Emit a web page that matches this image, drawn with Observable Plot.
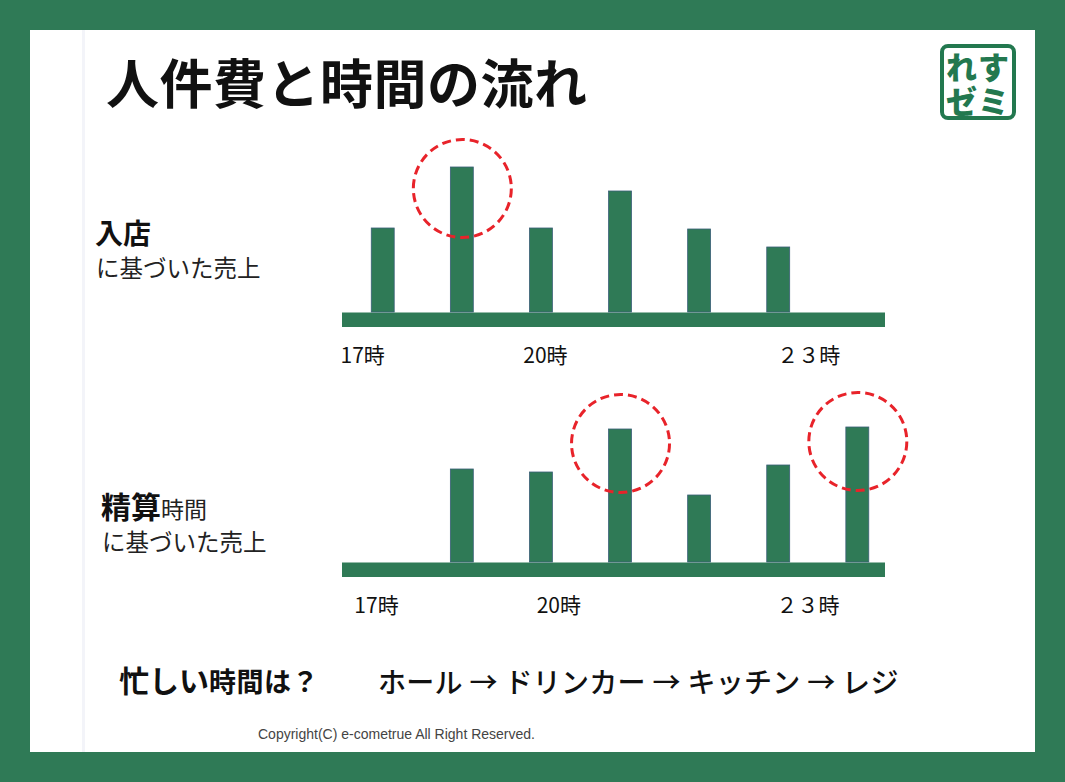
<!DOCTYPE html>
<html lang="ja">
<head>
<meta charset="utf-8">
<script src="https://cdn.jsdelivr.net/npm/d3@7"></script>
<script src="https://cdn.jsdelivr.net/npm/@observablehq/plot@0.6"></script>
<style>
  html, body { margin: 0; padding: 0; }
  body { width: 1065px; height: 782px; background: #2f7a56; position: relative; overflow: hidden;
         font-family: "Noto Sans CJK JP", "Noto Sans", sans-serif; color: #111; }
  .abs { position: absolute; white-space: nowrap; line-height: 1; }
  #panel { position: absolute; left: 30px; top: 30px; width: 1005px; height: 722px; background: #fff; }
  #vline { position: absolute; left: 82px; top: 30px; width: 3px; height: 722px; background: #f3f4f9; }
  #logo { position: absolute; left: 940px; top: 44px; width: 68px; height: 68px; border: 4px solid #23784f;
          border-radius: 8px; color: #23784f; font-weight: 900; }
  #logo div { position: absolute; left: 0; top: 1px; width: 68px; text-align: center; font-size: 31px;
              line-height: 34px; letter-spacing: 1px; }
  .chart { position: absolute; left: 330px; }
</style>
</head>
<body>
<div id="panel"></div>
<div id="vline"></div>
<div class="abs" style="left:106px; top:55px; font-size:53px; font-weight:700; letter-spacing:0.5px;">人件費と時間の流れ</div>
<div id="logo"><div>れす<br>ゼミ</div></div>

<div class="abs" style="left:95px; top:218px; font-size:28px; font-weight:700;">入店</div>
<div class="abs" style="left:96px; top:256px; font-size:23.5px; color:#222;">に基づいた売上</div>

<div class="abs" style="left:101px; top:490px; font-size:30px; font-weight:700;">精算<span style="font-size:23px; font-weight:400; color:#222;">時間</span></div>
<div class="abs" style="left:102px; top:530px; font-size:23.5px; color:#222;">に基づいた売上</div>

<div class="abs" style="left:119px; top:664px; font-size:30px; font-weight:700;">忙しい<span style="font-size:27px; letter-spacing:0.5px;">時間は？</span></div>
<div class="abs" style="left:378px; top:667px; font-size:28px; font-weight:500; letter-spacing:0.3px;">ホール → ドリンカー → キッチン → レジ</div>
<div class="abs" style="left:258px; top:727px; font-size:14px; color:#444; font-family:'Liberation Sans', Arial, sans-serif;">Copyright(C) e-cometrue All Right Reserved.</div>

<div id="chart1" class="chart" style="top:132px;"></div>
<div id="chart2" class="chart" style="top:382px;"></div>

<script>
// ---- data ----
const slots = [0, 1, 2, 3, 4, 5, 6];
const entrySales    = [84, 145, 84, 121, 83, 65, null];     // 入店に基づいた売上
const checkoutSales = [null, 93, 90, 133, 67, 97, 135];     // 精算時間に基づいた売上
const entryPeaks    = [1];
const checkoutPeaks = [3, 6];
const tickLabels    = ["17時", "20時", "２３時"];
const entryTickPos    = [-0.26, 2.05, 5.38];
const checkoutTickPos = [-0.085, 2.22, 5.37];

// ---- style ----
const green = "#2f7a56";
const red = "#e8232a";
const barHalf = 0.145;

function makeChart(values, peaks, tickPos, circleDy) {
  const data = slots.map((s, i) => ({slot: s, value: values[i]})).filter(d => d.value != null);
  const peakData = data.filter(d => peaks.includes(d.slot));
  const ticks = tickPos.map((p, i) => ({pos: p, label: tickLabels[i]}));
  return Plot.plot({
    width: 590,
    height: 250,
    marginLeft: 12,
    marginRight: 35,
    marginTop: 0,
    marginBottom: 70,
    x: {domain: [-0.515, 6.35], axis: null},
    y: {domain: [0, 180], axis: null},
    style: {background: "transparent", overflow: "visible"},
    marks: [
      Plot.ruleY([0], {stroke: green, strokeWidth: 14.5, dy: 7.25}),
      Plot.rectY(data, {
        x1: d => d.slot - barHalf, x2: d => d.slot + barHalf, y1: 0, y2: "value",
        fill: green, stroke: "#3b5f78", strokeWidth: 0.8
      }),
      Plot.dot(peakData, {
        x: "slot", y: "value", r: 49, dy: circleDy,
        stroke: red, fill: "none", strokeWidth: 3, strokeDasharray: "9,5"
      }),
      Plot.text(ticks, {
        x: "pos", text: "label", frameAnchor: "bottom", dy: 50,
        fontSize: 21, fill: "#111", fontFamily: "Noto Sans CJK JP"
      })
    ]
  });
}

document.getElementById("chart1").append(makeChart(entrySales, entryPeaks, entryTickPos, 21));
document.getElementById("chart2").append(makeChart(checkoutSales, checkoutPeaks, checkoutTickPos, 14));
</script>
</body>
</html>
